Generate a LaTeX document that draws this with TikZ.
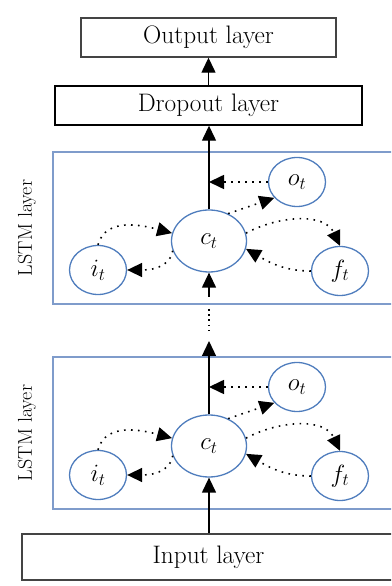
\documentclass[tikz,border=0pt]{standalone}
\usepackage{tikz}
\usetikzlibrary{arrows.meta,shapes.geometric}
\definecolor{GateBlue}{HTML}{4F7DBD}
\definecolor{FrameBlue}{HTML}{7F9CCB}
\definecolor{BoxGray}{HTML}{444444}

\begin{document}
\begin{tikzpicture}[
  x=1pt, y=1pt,
  layer/.style={draw=black, line width=1.4pt, minimum height=39pt, inner sep=0pt, font=\fontsize{25.3}{29}\selectfont},
  lstm/.style={draw=FrameBlue, line width=1.2pt, minimum width=342pt, minimum height=152pt, inner sep=0pt},
  gate/.style={ellipse, draw=GateBlue, line width=1.3pt, inner sep=0pt, minimum width=57pt, minimum height=49pt, font=\fontsize{27}{30}\selectfont},
  cell/.style={gate, minimum width=75pt, minimum height=62pt},
  side/.style={rotate=90, inner sep=0pt, font=\fontsize{20}{24}\selectfont},
  arrow/.style={-{Triangle[length=15pt, width=14pt]}, line width=1.3pt},
  flow/.style={arrow, line width=1.6pt, dash pattern=on 1.6pt off 5.4pt}
]
\clip (0,0) rectangle (391,586);

\node[layer, draw=BoxGray, minimum width=255pt] (output) at (208.5,548.5) {Output layer};
\node[layer, minimum width=307pt] (dropout) at (208.5,480.5) {Dropout layer};

% upper LSTM layer
\node[lstm] (lstmA) at (224,358) {};
\node[side] (labelA) at (27,358) {LSTM layer};
\node[cell] (cA) at (209,345) {$c_t$};
\node[gate] (oA) at (297,404) {$o_t$};
\node[gate] (iA) at (98,316) {$i_t$};
\node[gate] (fA) at (340,315) {$f_t$};

% lower LSTM layer
\node[lstm] (lstmB) at (224,153) {};
\node[side] (labelB) at (27,153) {LSTM layer};
\node[cell] (cB) at (209,140) {$c_t$};
\node[gate] (oB) at (297,199) {$o_t$};
\node[gate] (iB) at (98,111) {$i_t$};
\node[gate] (fB) at (340,110) {$f_t$};

\node[layer, draw=BoxGray, line width=2pt, minimum width=373pt, minimum height=46pt] (input) at (208.5,29) {Input layer};

\coordinate (botA) at (209,289);
\coordinate (gapA) at (209,277);
\coordinate (gapB) at (209,255);
\coordinate (topB) at (209,245);

\draw[arrow] (dropout) -- (output);
\draw[arrow] (cA.north) -- (cA.north |- dropout.south);
\draw[arrow] (botA) -- (cA);
\draw[line width=1.8pt, dash pattern=on 1.8pt off 3.4pt] (gapA) -- (gapB);
\draw[arrow] (cB.north) -- (topB);
\draw[arrow] (input.north -| cB) -- (cB);

\draw[flow] (oA.west) -- (oA.west -| cA);
\draw[flow] (cA.55) -- (oA.215);
\draw[flow] (iA.north) to[out=75, in=165] (cA.168);
\draw[flow] (cA.195) to[out=-100, in=0] (iA.east);
\draw[flow] (cA.12) to[out=28, in=115] (fA.north);
\draw[flow] (fA.west) to[out=180, in=-30] (cA.-12);

\draw[flow] (oB.west) -- (oB.west -| cB);
\draw[flow] (cB.55) -- (oB.215);
\draw[flow] (iB.north) to[out=75, in=165] (cB.168);
\draw[flow] (cB.195) to[out=-100, in=0] (iB.east);
\draw[flow] (cB.12) to[out=28, in=115] (fB.north);
\draw[flow] (fB.west) to[out=180, in=-30] (cB.-12);
\end{tikzpicture}
\end{document}
